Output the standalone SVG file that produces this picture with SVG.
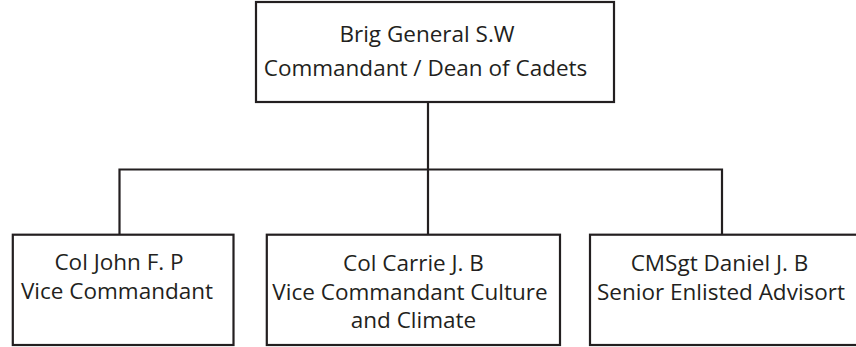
<svg xmlns="http://www.w3.org/2000/svg" width="856" height="347" viewBox="0 0 856 347">
<style>
.box{fill:#fff;stroke:#231f20;stroke-width:2.2}
.conn{fill:none;stroke:#231f20;stroke-width:2.2}
text{font-family:"Open Sans","Liberation Sans",sans-serif;fill:#231f20;text-anchor:middle;font-size:22.5px}
</style>
<rect width="856" height="347" fill="#fff"/>
<g id="connectors">
<path class="conn" d="M428 102V169.5M119.5 234.7V169.5H722V234.7M428 169.5V234.7"/>
</g>
<g id="node-commandant">
<rect class="box" x="256" y="2" width="358" height="100"/>
<text x="427" y="41.7">Brig General S.W</text>
<text x="425.5" y="75.5">Commandant / Dean of Cadets</text>
</g>
<g id="node-vice">
<rect class="box" x="12.8" y="234.7" width="220.7" height="110.3"/>
<text x="119" y="270">Col John F. P</text>
<text x="117" y="298.5">Vice Commandant</text>
</g>
<g id="node-culture">
<rect class="box" x="266.8" y="234.7" width="293.2" height="110.3"/>
<text x="413.5" y="271">Col Carrie J. B</text>
<text x="410" y="299.5">Vice Commandant Culture</text>
<text x="413.5" y="328">and Climate</text>
</g>
<g id="node-cmsgt">
<rect class="box" x="590" y="234.7" width="270" height="110.3"/>
<text x="719.5" y="271">CMSgt Daniel J. B</text>
<text x="721" y="299.5">Senior Enlisted Advisort</text>
</g>
</svg>
